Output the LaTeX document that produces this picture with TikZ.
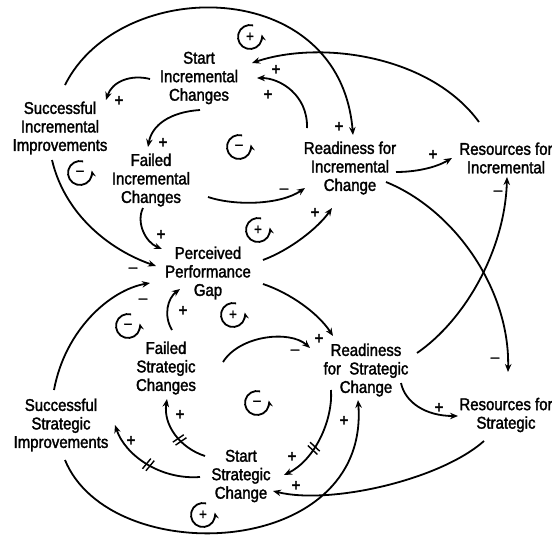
\documentclass[tikz,border=0pt]{standalone}
\usepackage{fontspec}
\usetikzlibrary{arrows.meta,decorations.markings}
\newfontfamily\cldfont[FakeStretch=0.88,FakeBold=1.8]{Liberation Sans}
\begin{document}
\begin{tikzpicture}[x=1pt,y=-1pt,
  lbl/.style={font=\cldfont\fontsize{17}{18.5}\selectfont, align=center, inner sep=0pt},
  sgn/.style={font=\cldfont\fontsize{17}{17}\selectfont, inner sep=0pt},
  lsgn/.style={font=\cldfont\fontsize{15}{15}\selectfont, inner sep=0pt},
  link/.style={line width=1.8pt, -{Stealth[length=8pt,width=6.5pt]}},
  loopline/.style={line width=1.8pt, -{Stealth[length=6.5pt,width=5.5pt]}},
  delay/.style={postaction={decorate, decoration={markings, mark=at position #1 with {\draw[line width=1.4pt,-] (-2.5pt,-6.5pt)--(-0.5pt,6.5pt) (1.5pt,-6.5pt)--(3.5pt,6.5pt);}}}}
]
\fill[white] (0,0) rectangle (552,538);
\useasboundingbox (0,0) rectangle (552,538);

% variables
\node[lbl] (SIC) at (199,78) {Start\\Incremental\\Changes};
\node[lbl] (SII) at (60,128) {Successful\\Incremental\\Improvements};
\node[lbl] (FIC) at (151,180) {Failed\\Incremental\\Changes};
\node[lbl] (RIC) at (350,168) {Readiness for\\Incremental\\Change};
\node[lbl] (RSI) at (506,158) {Resources for\\Incremental};
\node[lbl] (PPG) at (208,273) {Perceived\\Performance\\Gap};
\node[lbl] (RSC) at (366,370) {Readiness\\for\ \ Strategic\\Change};
\node[lbl] (RSS) at (506,415) {Resources for\\Strategic};
\node[lbl] (FSC) at (166,368) {Failed\\Strategic\\Changes};
\node[lbl] (SSI) at (61,425) {Successful\\Strategic\\Improvements};
\node[lbl] (SSC) at (241,476) {Start\\Strategic\\Change};

% links
\draw[link] ([shift={(-49,1)}]SIC.center) .. controls (130,74) and (112,82) .. ([shift={(46,-28)}]SII.center);
\draw[link] ([shift={(1,32)}]SIC.center) .. controls (170,112) and (152,125) .. ([shift={(-3,-33)}]FIC.center);
\draw[link] ([shift={(-8,28)}]FIC.center) .. controls (136,222) and (145,242) .. ([shift={(-46,-24)}]PPG.center);
\draw[link] ([shift={(-8,32)}]SII.center) .. controls (65,215) and (110,250) .. ([shift={(-52,-7)}]PPG.center);
\draw[link] ([shift={(-7,-35)}]SSI.center) .. controls (65,330) and (110,290) .. ([shift={(-58,10)}]PPG.center);
\draw[link] ([shift={(6,-38)}]FSC.center) .. controls (163,315) and (168,298) .. ([shift={(-28,16)}]PPG.center);
\draw[link] ([shift={(55,-13)}]PPG.center) .. controls (290,250) and (318,228) .. ([shift={(-18,40)}]RIC.center);
\draw[link] ([shift={(57,17)}]FIC.center) .. controls (235,206) and (280,205) .. ([shift={(-45,20)}]RIC.center);
\draw[link] ([shift={(55,11)}]PPG.center) .. controls (290,293) and (318,313) .. ([shift={(-33,-34)}]RSC.center);
\draw[link] ([shift={(57,-6)}]FSC.center) .. controls (240,335) and (290,330) .. ([shift={(-56,-22)}]RSC.center);
\draw[link] ([shift={(-43,-40)}]RIC.center) .. controls (308,95) and (280,78) .. ([shift={(58,0)}]SIC.center);
\draw[link] ([shift={(-27,-36)}]RSI.center) .. controls (430,55) and (320,40) .. ([shift={(53,-15)}]SIC.center);
\draw[link] ([shift={(5,-43)}]SII.center) .. controls (120,-25) and (340,-25) .. ([shift={(3,-33)}]RIC.center);
\draw[link] ([shift={(46,4)}]RIC.center) .. controls (415,172) and (435,168) .. ([shift={(-54,0)}]RSI.center);
\draw[link] ([shift={(51,-17)}]RSC.center) .. controls (465,320) and (505,250) .. ([shift={(1,19)}]RSI.center);
\draw[link] ([shift={(36,14)}]RIC.center) .. controls (455,210) and (510,290) .. ([shift={(2,-43)}]RSS.center);
\draw[link] ([shift={(35,13)}]RSC.center) .. controls (405,402) and (425,416) .. ([shift={(-48,1)}]RSS.center);
\draw[link] ([shift={(-22,26)}]RSS.center) .. controls (440,480) and (330,505) .. ([shift={(32,15)}]SSC.center);
\draw[link,delay=0.6] ([shift={(-35,20)}]RSC.center) .. controls (333,420) and (315,460) .. ([shift={(43,-1)}]SSC.center);
\draw[link] ([shift={(4,35)}]SSI.center) .. controls (110,570) and (370,560) .. ([shift={(-8,30)}]RSC.center);
\draw[link,delay=0.5] ([shift={(-41,1)}]SSC.center) .. controls (160,480) and (125,455) .. ([shift={(54,0)}]SSI.center);
\draw[link,delay=0.4] ([shift={(-36,-20)}]SSC.center) .. controls (180,448) and (163,425) .. ([shift={(1,31)}]FSC.center);

% link polarities
\node[sgn] (s1) at (119,101) {+};
\node[sgn] (s2) at (163,143) {+};
\node[sgn] (s3) at (161,235) {+};
\node[sgn] (s4) at (133,270) {–};
\node[sgn] (s5) at (143,301) {–};
\node[sgn] (s6) at (183,311) {+};
\node[sgn] (s7) at (315,213) {+};
\node[sgn] (s8) at (284,191) {–};
\node[sgn] (s9) at (319,339) {+};
\node[sgn] (s10) at (295,352) {–};
\node[sgn] (s11) at (268,95) {+};
\node[sgn] (s12) at (276,70) {+};
\node[sgn] (s13) at (339,127) {+};
\node[sgn] (s14) at (433,155) {+};
\node[sgn] (s15) at (498,193) {–};
\node[sgn] (s16) at (495,360) {–};
\node[sgn] (s17) at (439,408) {+};
\node[sgn] (s18) at (296,486) {+};
\node[sgn] (s19) at (292,457) {+};
\node[sgn] (s20) at (344,421) {+};
\node[sgn] (s21) at (131,441) {+};
\node[sgn] (s22) at (180,415) {+};

% loop markers
\foreach \cx/\cy/\sg [count=\i] in {250/37/+, 239/147/–, 80/173/–, 258/230/+, 128/326/–, 233/315/+, 257/403/–, 203/515/+}{
  \draw[loopline] (\cx,\cy) ++(75:12pt) arc[start angle=75,end angle=372,radius=12pt];
  \node[lsgn] (loop\i) at (\cx,\cy) {\sg};
}
\end{tikzpicture}
\end{document}
